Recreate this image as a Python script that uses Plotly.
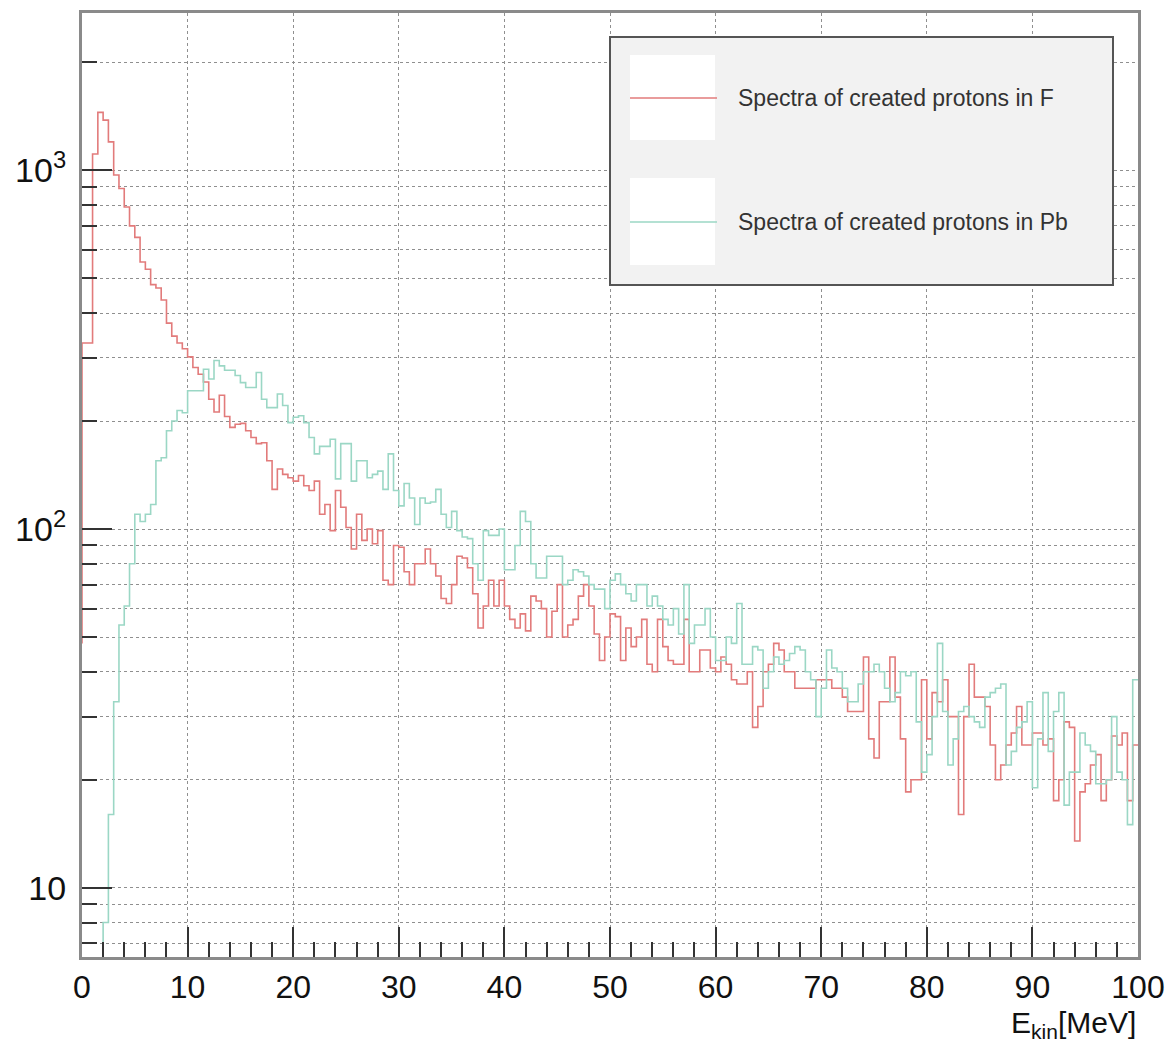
import plotly.graph_objects as go

# ---------------- data ----------------
bin_width = 0.5  # MeV
x_min, x_max = 0.0, 100.0

red_start_level = 48  # level the F outline starts from at E=0

red_F = [
    330, 330, 1110, 1450, 1380, 1200, 970, 890, 790, 700,
    650, 555, 530, 480, 470, 435, 375, 345, 330, 318,
    302, 282, 270, 257, 230, 212, 236, 206, 192, 196,
    197, 188, 180, 173, 174, 155, 129, 147, 142, 139,
    136, 141, 132, 128, 136, 110, 117, 99, 128, 115,
    101, 88, 110, 93, 100, 91, 99, 72, 70, 90,
    89, 76, 70, 80, 80, 88, 80, 74, 64, 62,
    70, 84, 83, 78, 66, 53, 61, 72, 61, 72,
    61, 56, 53, 58, 52, 65, 63, 60, 50, 59,
    70, 50, 54, 56, 65, 70, 61, 51, 43, 50,
    58, 57, 43, 53, 47, 50, 56, 42, 40, 56,
    47, 43, 42, 42, 56, 40, 40, 46, 46, 41,
    40, 44, 42, 38, 37, 37, 40, 28, 32, 40,
    42, 48, 46, 40, 40, 36, 36, 36, 36, 38,
    38, 38, 36, 36, 34, 31, 31, 31, 44, 26,
    23, 33, 33, 44, 34, 26, 18.5, 20, 20, 38,
    26, 35, 33, 38, 30, 30, 16, 30, 42, 34,
    34, 32, 25, 20, 22, 25, 27, 32, 25, 25,
    27, 27, 25, 26, 17.5, 20, 29, 28, 13.5, 18.5,
    19.5, 22, 23.5, 17.5, 20, 26.5, 25, 27, 17.5, 25,
]

green_Pb = [
    0, 0, 0, 0, 8, 16, 33, 54, 61, 80,
    110, 105, 110, 117, 155, 158, 188, 200, 214, 211,
    243, 243, 243, 279, 262, 295, 285, 277, 277, 268,
    256, 248, 248, 273, 230, 218, 218, 238, 221, 198,
    205, 207, 198, 180, 162, 170, 170, 178, 138, 173,
    173, 136, 155, 155, 139, 142, 145, 129, 162, 128,
    116, 134, 122, 103, 122, 118, 119, 129, 110, 101,
    112, 99, 95, 94, 80, 72, 99, 96, 96, 100,
    77, 77, 90, 112, 105, 80, 73, 73, 84, 84,
    84, 70, 72, 77, 76, 74, 70, 68, 68, 60,
    72, 75, 70, 66, 63, 70, 70, 61, 65, 61,
    56, 54, 60, 51, 70, 48, 54, 54, 60, 50,
    43, 43, 50, 48, 62, 42, 42, 47, 46, 36,
    40, 44, 42, 43, 45, 47, 46, 40, 38, 30,
    36, 46, 41, 40, 36, 33, 33, 37, 40, 40,
    42, 40, 36, 33, 35, 40, 39, 40, 29, 21,
    23.5, 30, 48, 31, 22, 26, 31, 32, 30, 29,
    28, 34, 35, 36, 37, 22, 24, 28, 29, 33,
    19, 26, 35, 24, 31, 35, 17, 21, 21, 27,
    25, 24, 19.5, 19.5, 20, 30, 21, 20, 15, 38,
]

x_tick_vals = list(range(0, 101, 10))
x_tick_text = [str(v) for v in x_tick_vals]
y_tick_vals = [10, 100, 1000]
y_tick_text = ["10", "10<sup>2</sup>", "10<sup>3</sup>"]
y_minor_vals = [7, 8, 9, 20, 30, 40, 50, 60, 70, 80, 90,
                200, 300, 400, 500, 600, 700, 800, 900, 2000]

legend_labels = ["Spectra of created protons in F", "Spectra of created protons in Pb"]
x_title = "E<sub>kin</sub>[MeV]"

RED = "#e27b7b"
GREEN = "#9bd7c5"
FONT = "Liberation Sans, Arial, Helvetica, sans-serif"
Y_FLOOR = 1.0  # empty bins drawn below the visible range (log axis)


def step_xy(values, start=None):
    n = len(values)
    xs = [x_min + i * bin_width for i in range(n)] + [x_min + n * bin_width]
    ys = [max(v, Y_FLOOR) for v in values] + [max(values[-1], Y_FLOOR)]
    if start is not None:
        xs = [x_min] + xs
        ys = [start] + ys
    return xs, ys


fig = go.Figure()
xr, yr = step_xy(red_F, red_start_level)
fig.add_trace(go.Scatter(x=xr, y=yr, mode="lines", line=dict(color=RED, width=1.6, shape="hv"),
                         name=legend_labels[0], showlegend=False, hoverinfo="skip"))
xg, yg = step_xy(green_Pb)
fig.add_trace(go.Scatter(x=xg, y=yg, mode="lines", line=dict(color=GREEN, width=1.6, shape="hv"),
                         name=legend_labels[1], showlegend=False, hoverinfo="skip"))

W, H = 1173, 1042
L, R, T, B = 82, 35, 13, 85
pw, ph = W - L - R, H - T - B


def px2x(px):
    return (px - L) / pw


def px2y(py):
    return (T + ph - py) / ph


fig.update_layout(
    width=W, height=H,
    margin=dict(l=L, r=R, t=T, b=B, autoexpand=False),
    paper_bgcolor="white", plot_bgcolor="white",
    font=dict(family=FONT, color="#111"),
    xaxis=dict(
        range=[x_min, x_max], tickmode="array", tickvals=x_tick_vals, ticktext=x_tick_text,
        ticks="inside", ticklen=30, tickwidth=2, tickcolor="#333",
        tickfont=dict(size=32, family=FONT, color="#111"), ticklabelstandoff=0,
        showgrid=True, gridcolor="#8f8f8f", griddash="dot", gridwidth=1,
        minor=dict(dtick=2, tick0=0, ticks="inside", ticklen=15, tickwidth=2, tickcolor="#333", showgrid=False),
        showline=True, mirror=True, linecolor="#8a8a8a", linewidth=3, zeroline=False,
        automargin=False,
    ),
    yaxis=dict(
        type="log", range=[0.807, 3.4385], tickmode="array", tickvals=y_tick_vals, ticktext=y_tick_text,
        ticks="inside", ticklen=30, tickwidth=2, tickcolor="#333",
        tickfont=dict(size=34, family=FONT, color="#111"), ticklabelstandoff=6,
        showgrid=True, gridcolor="#8f8f8f", griddash="dot", gridwidth=1,
        minor=dict(tickvals=y_minor_vals, ticks="inside", ticklen=15, tickwidth=2, tickcolor="#333",
                   showgrid=True, gridcolor="#8f8f8f", griddash="dot", gridwidth=1),
        showline=True, mirror=True, linecolor="#8a8a8a", linewidth=3, zeroline=False,
        automargin=False,
    ),
)

shapes = []
# legend box
shapes.append(dict(type="rect", xref="paper", yref="paper",
                   x0=px2x(610), x1=px2x(1113), y0=px2y(285), y1=px2y(37),
                   fillcolor="#f2f2f2", line=dict(color="#555", width=2)))
# legend entry boxes + lines
for (top, bot, ly, col) in [(55, 140, 98, RED), (178, 265, 222, GREEN)]:
    shapes.append(dict(type="rect", xref="paper", yref="paper",
                       x0=px2x(630), x1=px2x(715), y0=px2y(bot), y1=px2y(top),
                       fillcolor="white", line=dict(width=0)))
    shapes.append(dict(type="line", xref="paper", yref="paper",
                       x0=px2x(630), x1=px2x(717), y0=px2y(ly), y1=px2y(ly),
                       line=dict(color=col, width=1.6)))
fig.update_layout(shapes=shapes)

annotations = []
for label, ly in zip(legend_labels, [98, 222]):
    annotations.append(dict(text=label, xref="paper", yref="paper", x=px2x(736), y=px2y(ly),
                            xanchor="left", yanchor="middle", showarrow=False,
                            font=dict(size=23, family=FONT, color="#333")))
annotations.append(dict(text=x_title, xref="paper", yref="paper", x=px2x(1138), y=px2y(1024),
                        xanchor="right", yanchor="middle", showarrow=False,
                        font=dict(size=30, family=FONT, color="#111")))
fig.update_layout(annotations=annotations)

fig.write_html("out.html")
